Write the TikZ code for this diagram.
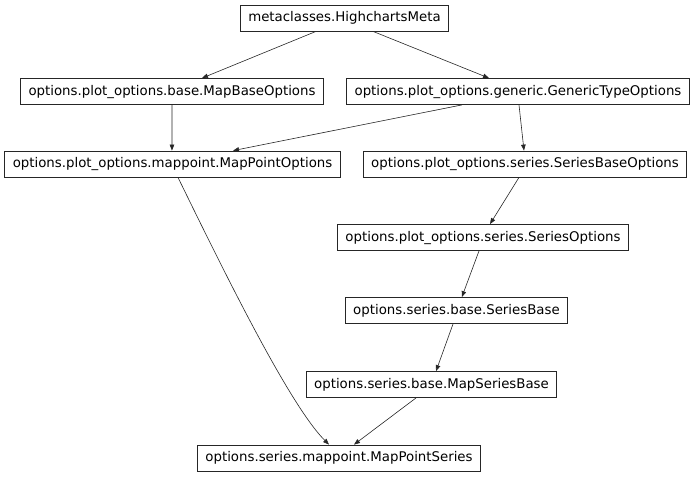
\documentclass[tikz,border=0pt]{standalone}
\usepackage{fontspec}
\setmainfont{DejaVu Sans}
\usetikzlibrary{arrows.meta}

\begin{document}
\begin{tikzpicture}[x=0.75pt, y=-0.75pt, >={Triangle[length=4.5pt,width=3.4pt]}]
	\edef\boxheight{19.5pt}
	\tikzstyle{cls}=[draw=black!85,rectangle,line width=0.6pt,minimum height=\boxheight,inner xsep=6pt,inner ysep=0pt,text height=7.6pt,text depth=2.2pt,font=\fontsize{10}{12}\selectfont]
	\tikzstyle{inh}=[->,line width=0.45pt,black!85]

	\useasboundingbox (0,0) rectangle (693,476);

	\node [cls] (meta) at (344.5,18) {metaclasses.HighchartsMeta};
	\node [cls] (mapbase) at (172,91.5) {options.plot\_options.base.MapBaseOptions};
	\node [cls] (generic) at (518,91.5) {options.plot\_options.generic.GenericTypeOptions};
	\node [cls] (mappointopts) at (172.5,164) {options.plot\_options.mappoint.MapPointOptions};
	\node [cls] (seriesbaseopts) at (525,164) {options.plot\_options.series.SeriesBaseOptions};
	\node [cls] (seriesopts) at (483,237.5) {options.plot\_options.series.SeriesOptions};
	\node [cls] (seriesbase) at (456.5,310.5) {options.series.base.SeriesBase};
	\node [cls] (mapseriesbase) at (431.5,384.5) {options.series.base.MapSeriesBase};
	\node [cls] (mappointseries) at (339,458) {options.series.mappoint.MapPointSeries};

	\draw [inh] ([xshift=-21.4pt]meta.south) -- ([xshift=22.5pt]mapbase.north);
	\draw [inh] ([xshift=21.4pt]meta.south) -- ([xshift=-21.75pt]generic.north);
	\draw [inh] (mapbase.south) -- ([xshift=-0.4pt]mappointopts.north);
	\draw [inh] ([xshift=-42pt]generic.south) -- ([xshift=45.4pt]mappointopts.north);
	\draw [inh] ([xshift=0.75pt]generic.south) -- ([xshift=-0.75pt]seriesbaseopts.north);
	\draw [inh] ([xshift=-4.5pt]seriesbaseopts.south) -- ([xshift=5.25pt]seriesopts.north);
	\draw [inh] ([xshift=-3pt]seriesopts.south) -- ([xshift=4pt]seriesbase.north);
	\draw [inh] ([xshift=-2.6pt]seriesbase.south) -- ([xshift=3.4pt]mapseriesbase.north);
	\draw [inh] ([xshift=-11.6pt]mapseriesbase.south) -- ([xshift=11.25pt]mappointseries.north);
	% long way round from the mappoint options
	\draw [inh] ([xshift=4.1pt]mappointopts.south) .. controls +(45,92) and +(-40,-40) .. ([xshift=-7.5pt]mappointseries.north);

\end{tikzpicture}
\end{document}
